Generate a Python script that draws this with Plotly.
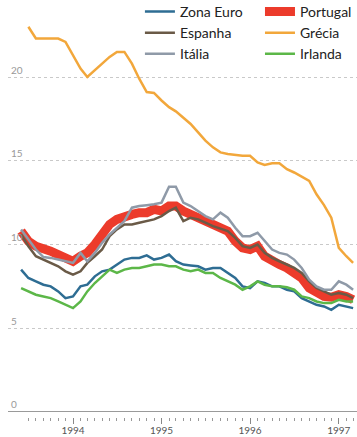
import pandas as pd
import plotly.graph_objects as go

months = pd.date_range("1993-06-01", "1997-03-01", freq="MS")

zona_euro = [8.5, 8.0, 7.8, 7.6, 7.5, 7.2, 6.8, 6.9, 7.5, 7.6, 8.1, 8.4, 8.5, 8.8, 9.1, 9.2,
             9.2, 9.35, 9.1, 9.2, 9.4, 9.0, 8.8, 8.75, 8.7, 8.5, 8.6, 8.6, 8.3, 8.0, 7.5, 7.4,
             7.8, 7.7, 7.5, 7.5, 7.3, 7.2, 6.8, 6.6, 6.4, 6.3, 6.1, 6.4, 6.3, 6.2]
espanha = [10.6, 9.9, 9.3, 9.1, 8.9, 8.7, 8.4, 8.2, 8.4, 8.9, 9.3, 9.7, 10.5, 10.9, 11.2, 11.2,
           11.3, 11.4, 11.5, 11.7, 12.0, 12.2, 11.4, 11.6, 11.5, 11.3, 11.1, 10.95, 10.8, 10.4, 9.9, 9.8,
           10.0, 9.5, 9.2, 9.0, 8.8, 8.6, 8.3, 7.8, 7.4, 7.2, 7.0, 7.1, 7.0, 6.8]
italia = [10.9, 10.3, 9.7, 9.25, 9.2, 9.1, 9.0, 8.9, 9.5, 9.0, 9.5, 10.1, 10.6, 11.0, 11.4, 12.2,
          12.3, 12.35, 12.4, 12.5, 13.45, 13.45, 12.5, 12.3, 12.0, 11.7, 11.5, 11.9, 11.6, 11.0, 10.5, 10.5,
          10.7, 10.2, 9.7, 9.5, 9.4, 9.1, 8.6, 7.9, 7.5, 7.3, 7.3, 7.8, 7.6, 7.3]
portugal = [10.8, 10.2, 9.9, 9.8, 9.6, 9.4, 9.2, 9.0, 9.3, 9.5, 10.0, 10.7, 11.2, 11.5, 11.7, 11.8,
            11.9, 11.9, 12.1, 12.0, 12.3, 12.3, 12.0, 11.8, 11.6, 11.4, 11.2, 11.0, 10.8, 10.2, 9.8, 9.7,
            9.9, 9.3, 9.0, 8.8, 8.6, 8.3, 8.0, 7.4, 7.1, 6.9, 6.85, 7.0, 6.9, 6.7]
grecia = [None, 23.0, 22.3, 22.3, 22.3, 22.3, 22.1, 21.3, 20.5, 20.0, 20.4, 20.8, 21.2, 21.5, 21.5, 20.8,
          19.9, 19.1, 19.05, 18.6, 18.2, 17.95, 17.55, 17.2, 16.7, 16.2, 15.8, 15.5, 15.4, 15.35, 15.3, 15.3,
          14.9, 14.75, 14.85, 14.85, 14.5, 14.3, 14.05, 13.8, 13.0, 12.35, 11.6, 9.8, 9.3, 8.9]
irlanda = [7.4, 7.2, 7.0, 6.9, 6.8, 6.6, 6.4, 6.2, 6.6, 7.2, 7.7, 8.1, 8.5, 8.3, 8.5, 8.6,
           8.6, 8.7, 8.8, 8.8, 8.7, 8.7, 8.5, 8.4, 8.5, 8.3, 8.3, 8.0, 7.8, 7.6, 7.3, 7.5,
           7.8, 7.6, 7.5, 7.5, 7.45, 7.3, 6.9, 6.8, 6.6, 6.5, 6.5, 6.7, 6.6, 6.6]

y_ticks = [0, 5, 10, 15, 20]

# (name, values, color, width, legend, rank) in drawing order
series = [
    ("Portugal", portugal, "#ec3b2b", 9, "legend2", 1),
    ("Zona Euro", zona_euro, "#2e6d93", 2.5, "legend", 1),
    ("Irlanda", irlanda, "#5cb748", 2.5, "legend2", 3),
    ("Espanha", espanha, "#6a5a47", 2.5, "legend", 2),
    ("Itália", italia, "#8f9aa8", 2.5, "legend", 3),
    ("Grécia", grecia, "#f2a73b", 2.5, "legend2", 2),
]

fig = go.Figure()
for name, vals, color, width, leg, rank in series:
    fig.add_trace(go.Scatter(
        x=months, y=vals, name=name, mode="lines",
        line=dict(color=color, width=width),
        legend=leg, legendrank=rank, connectgaps=False,
    ))

legend_style = dict(
    orientation="v", yanchor="top", y=1.01, xanchor="left",
    font=dict(size=14, color="#222", family="Lato, sans-serif"),
    bgcolor="rgba(0,0,0,0)", itemwidth=30, tracegroupgap=0,
)

fig.update_layout(
    width=357, height=437,
    margin=dict(l=8, r=0, t=0, b=20, autoexpand=False),
    paper_bgcolor="white", plot_bgcolor="white",
    font=dict(family="Lato, sans-serif", color="#333"),
    showlegend=True,
    legend=dict(x=0.378, **legend_style),
    legend2=dict(x=0.722, **legend_style),
    xaxis=dict(
        type="date",
        range=["1993-04-08", "1997-03-17"],
        tick0="1994-01-01", dtick="M12", tickformat="%Y",
        ticks="outside", ticklen=6, tickwidth=1, tickcolor="#888",
        minor=dict(dtick="M1", ticks="outside", ticklen=3, tickcolor="#999", tickwidth=1, showgrid=False),
        showgrid=False, showline=False, zeroline=False,
        tickfont=dict(size=10, color="#555"),
        ticklabelstandoff=-2,
    ),
    yaxis=dict(
        range=[-0.3, 24.6],
        tickvals=y_ticks, ticktext=[str(v) for v in y_ticks],
        ticklabelposition="inside top",
        showgrid=True, gridcolor="#c9c9c9", griddash="dot", gridwidth=1,
        zeroline=True, zerolinecolor="#9a9a9a", zerolinewidth=1,
        showline=False, ticks="",
        tickfont=dict(size=10, color="#999"),
    ),
)

fig.write_html("out.html")
